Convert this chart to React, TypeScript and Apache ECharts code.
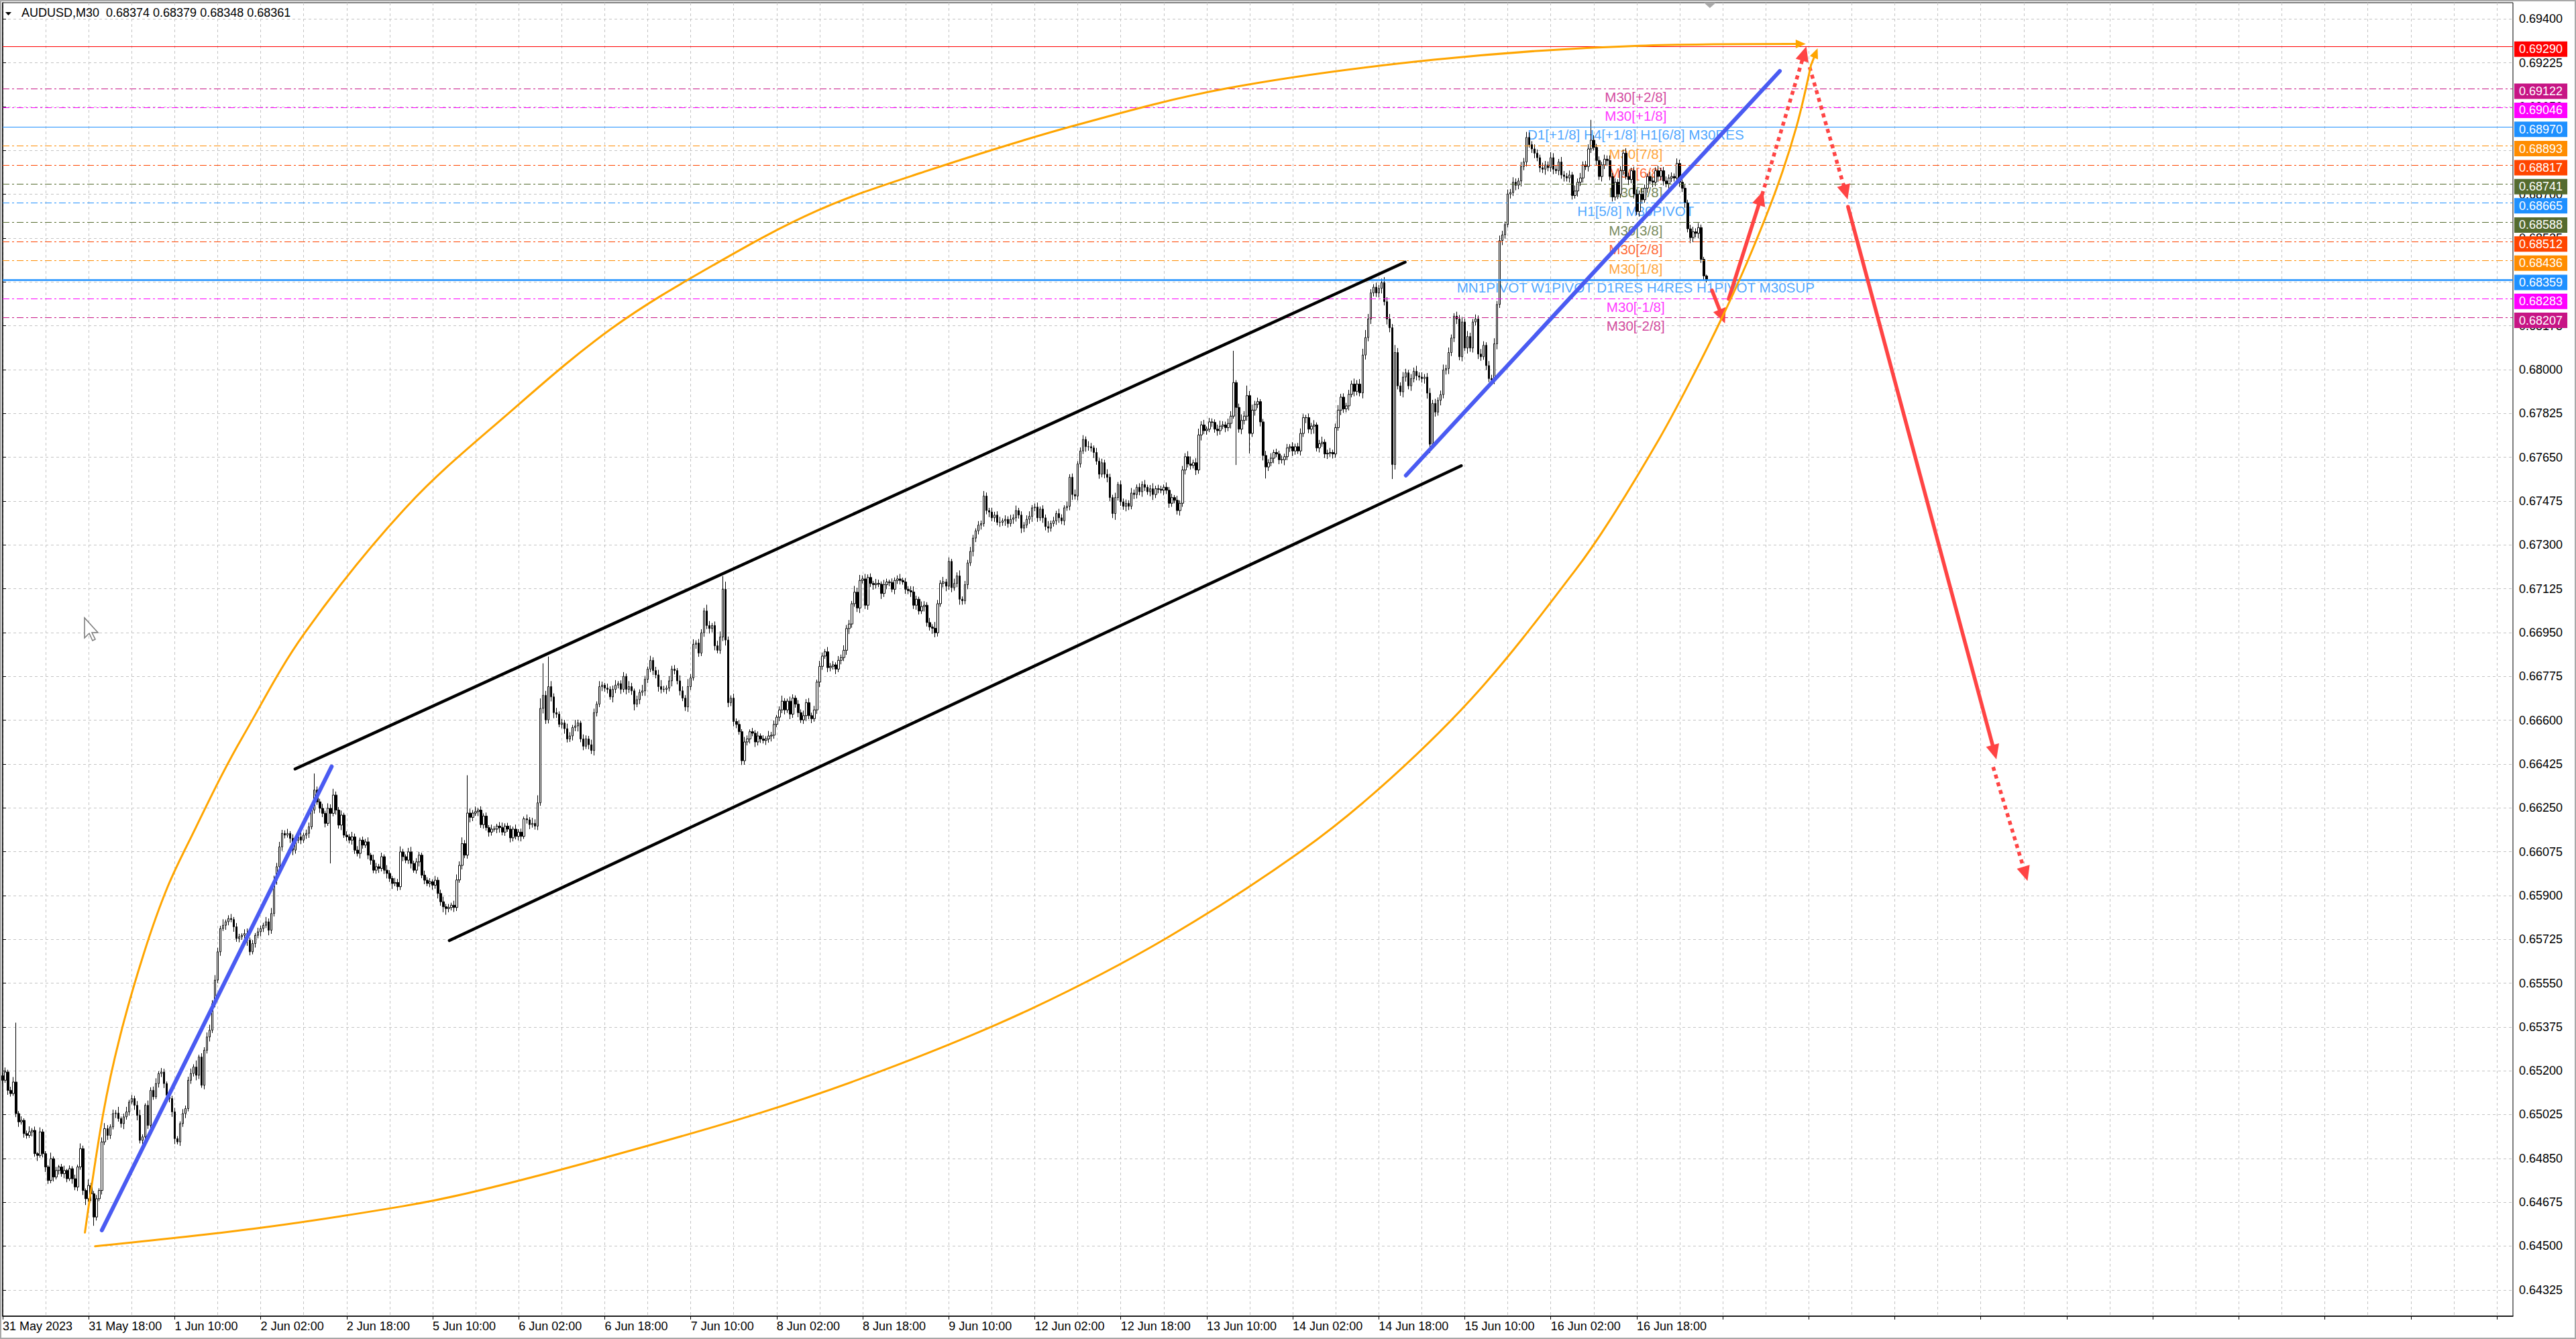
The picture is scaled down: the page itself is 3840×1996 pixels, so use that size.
import React, { useEffect, useRef } from "react";
import * as echarts from "echarts";

const FONT = '"Liberation Sans", Arial, Helvetica, sans-serif';
const SCALE = 100000; // prices below are in 1e-5 units

// ---- header ----
const HEADER_SYMBOL = "AUDUSD,M30";
const HEADER_PRICES = ["0.68374", "0.68379", "0.68348", "0.68361"];

// ---- x axis (M30 bars, one label every 32 bars) ----
const TIME_LABELS = [
  "31 May 2023", "31 May 18:00", "1 Jun 10:00", "2 Jun 02:00", "2 Jun 18:00",
  "5 Jun 10:00", "6 Jun 02:00", "6 Jun 18:00", "7 Jun 10:00", "8 Jun 02:00",
  "8 Jun 18:00", "9 Jun 10:00", "12 Jun 02:00", "12 Jun 18:00", "13 Jun 10:00",
  "14 Jun 02:00", "14 Jun 18:00", "15 Jun 10:00", "16 Jun 02:00", "16 Jun 18:00",
];
const LABEL_STEP = 32;
const TOTAL_SLOTS = 935;

// ---- y axis ----
const Y_MIN = 0.6422;
const Y_MAX = 0.69465;
const Y_TICKS = [
  0.64325, 0.645, 0.64675, 0.6485, 0.65025, 0.652, 0.65375, 0.6555, 0.65725, 0.659,
  0.66075, 0.6625, 0.66425, 0.666, 0.66775, 0.6695, 0.67125, 0.673, 0.67475, 0.6765,
  0.67825, 0.68, 0.68175, 0.6835, 0.68525, 0.687, 0.68875, 0.6905, 0.69225, 0.694,
];

// ---- candles: closes (open = previous close) ----
const OPEN_FIRST = 65180;
const CLOSE_A = [
  65162,65195,65122,65109,65155,65029,64996,65002,64949,64942,
  64956,64962,64869,64862,64956,64869,64816,64762,64849,64776,
  64802,64816,64789,64802,64769,64809,64769,64736,64816,64889,
  64722,64689,64742,64709,64616,64689,64722,64916,64969,64942,
  64976,65029,65031,65009,64989,65016,65036,65075,65089,65062,
  65022,64922,64936,65062,64982,65122,65096,65149,65189,65195,
  65149,65102,65089,65036,64929,64916,64989,65029,65049,65162,
  65189,65215,65182,65255,65142,65282,65335,65362,65468,65562,
  65675,65768,65781,65795,65808,65804,65775,65728,65735,65741,
  65748,65721,65675,65708,65741,65755,65768,65781,65795,65761,
  65828,65961,66015,66094,66148,66141,66148,66128,66081,66121,
  66134,66121,66141,66148,66174,66241,66321,66274,66248,66228,
  66188,66248,66228,66301,66241,66181,66221,66141,66134,66121,
  66134,66081,66068,66121,66101,66114,66061,66041,66001,66015,
  66008,66055,66001,65988,65968,65948,65952,65935,66074,66055,
  66041,66074,66028,66001,66034,66061,65981,65961,65948,65955,
  65941,65961,65908,65875,65855,65848,65852,65861,
];
const CLOSE_B = [
  65852,65962,66020,66107,66061,66229,66212,66229,66235,66241,
  66183,66217,66171,66153,66165,66165,66177,66171,66153,66177,
  66165,66130,66165,66136,66153,66136,66206,66202,66183,66188,
  66177,66270,66647,66699,66601,66734,66693,66630,66624,66583,
  66589,66566,66525,66537,66571,66577,66589,66525,66496,66525,
  66502,66479,66630,66664,66734,66740,66728,66723,66693,66723,
  66740,66746,66723,66775,66723,66734,66717,66664,66682,66711,
  66717,66763,66804,66839,66798,66781,66734,66723,66723,66728,
  66757,66804,66798,66757,66717,66688,66653,66734,66769,66903,
  66908,66868,66949,67036,66978,66966,66978,66897,66879,66932,
  67123,66920,66670,66688,66595,66583,66554,66438,66513,66525,
  66554,66548,66513,66537,66525,66519,66525,66537,66540,66583,
  66612,66641,66676,66641,66676,66624,66688,66664,66630,66601,
  66618,66670,66618,66606,66641,66752,66815,66856,66873,66810,
  66815,66821,66804,66839,66850,66879,66966,66984,67065,67111,
  67048,67158,67164,67059,67170,67146,67141,67146,67143,67106,
  67141,67152,67150,67123,67158,67164,67158,67152,67123,67117,
];
const CLOSE_C = [
  67112,67059,67083,67036,67054,67059,66990,66972,66967,66949,
  67065,67146,67152,67135,67234,67129,67146,67176,67083,67077,
  67141,67228,67274,67327,67356,67379,67385,67495,67437,67431,
  67408,67419,67390,67390,67396,67402,67385,67402,67408,67437,
  67419,67367,67379,67402,67414,67448,67451,67408,67443,67408,
  67373,67367,67385,67396,67425,67408,67396,67448,67454,67570,
  67501,67495,67623,67675,67721,67692,67692,67687,67669,67634,
  67582,67628,67582,67570,67489,67425,67489,67541,67472,67454,
  67466,67454,67507,67501,67530,67512,67541,67530,67512,67524,
  67501,67524,67522,67518,67530,67518,67466,67489,67478,67437,
  67466,67599,67652,67623,67617,67628,67599,67739,67779,67756,
  67762,67791,67789,67762,67756,67774,67779,67768,67785,67814,
  67948,67849,67762,67797,67814,67896,67745,67838,67861,67872,
  67791,67657,67611,67628,67646,67669,67663,67640,67640,67652,
  67687,67692,67675,67692,67675,67745,67808,67808,67762,67774,
  67779,67687,67704,67710,67663,67666,67669,67663,67768,67838,
  67890,67843,67855,67901,67942,67913,67942,67907,68058,68128,
];
const CLOSE_D = [
  68202,68306,68329,68306,68324,68347,68271,68202,68167,67621,
  68068,67935,67911,67970,67987,67935,67964,67993,67975,67970,
  67964,67970,67906,67702,67865,67830,67877,67900,67998,68004,
  68068,68126,68213,68202,68051,68190,68086,68132,68086,68190,
  68202,68062,68051,68097,68016,67964,67958,68103,68260,68515,
  68538,68579,68701,68707,68748,68736,68753,68811,68829,68927,
  68898,68881,68864,68846,68806,68800,68817,68806,68846,68800,
  68794,68829,68777,68771,68765,68777,68695,68713,68748,68765,
  68817,68811,68881,68916,68887,68835,68771,68817,68840,68835,
  68771,68689,68748,68701,68794,68864,68771,68759,68794,68701,
  68631,68701,68678,68724,68771,68753,68748,68794,68771,68794,
  68753,68742,68765,68771,68765,68823,68748,68724,68666,68562,
  68527,68550,68544,68567,68440,68374,68361,
];
// wick lengths above / below the body (1e-5 units)
const UPPER_WICK = [
  12,18,9,14,20,237,10,16,8,12,22,9,15,6,18,11,10,7,24,9,
  14,8,12,19,6,13,10,16,9,21,12,8,24,10,11,15,9,18,22,14,
  10,16,12,25,8,13,20,9,14,11,17,22,10,8,19,12,15,21,9,16,
  13,8,22,11,16,10,9,18,12,14,20,11,26,9,15,12,18,22,14,20,
  16,11,24,9,13,18,10,15,12,8,17,20,11,14,9,16,12,10,19,13,
  22,18,15,20,14,12,18,9,16,11,13,19,10,15,17,21,66,14,12,18,
  10,20,16,25,14,12,18,9,15,11,20,13,16,10,14,12,18,9,22,15,
  11,16,9,20,13,10,18,14,22,12,9,16,20,11,15,13,10,18,12,14,
  9,17,12,15,20,11,14,10,18,22,16,25,14,151,18,12,20,9,15,11,
  14,10,18,12,9,16,20,11,13,15,10,18,12,14,9,17,11,22,16,30,
  40,128,18,120,22,14,19,11,16,12,20,15,10,24,13,9,18,14,12,20,
  16,11,22,14,9,18,12,15,20,10,13,17,11,22,15,9,16,12,24,14,
  10,18,12,15,20,26,14,11,19,13,16,10,22,18,12,30,15,20,11,16,
  14,12,25,18,10,16,20,22,52,30,14,11,18,12,16,10,20,14,9,15,
  12,18,10,15,11,20,13,16,9,14,22,12,10,18,15,11,16,13,20,14,
  18,12,16,10,22,14,11,19,13,15,10,17,12,20,14,16,11,25,18,22,
  14,20,12,16,10,18,15,11,19,13,9,16,12,14,20,11,15,12,18,22,
  14,10,20,16,12,18,11,25,15,13,20,12,16,10,19,14,22,11,15,12,
  18,13,10,16,12,20,14,11,17,13,15,22,10,16,12,18,14,20,11,15,
  12,16,20,11,14,18,10,15,13,22,12,16,11,19,14,10,18,12,15,20,
  11,14,17,12,22,15,10,18,13,16,12,20,14,11,19,10,16,13,15,12,
  20,14,11,16,13,18,10,15,22,12,16,14,11,19,13,15,10,18,12,16,
  14,22,30,12,18,25,15,20,11,16,14,12,18,22,15,13,19,20,127,10,
  15,24,20,40,18,22,14,16,10,12,18,14,20,11,15,13,17,12,16,10,
  18,12,15,20,14,11,16,13,19,10,15,22,12,14,18,11,16,20,13,15,
  12,18,14,22,16,20,25,30,20,15,12,18,14,16,22,18,20,15,30,18,
  14,20,16,12,18,15,22,14,19,12,16,20,14,18,12,16,22,15,20,14,
  12,18,16,20,14,22,15,12,18,14,20,16,12,18,15,22,14,20,16,12,
  18,14,20,15,12,18,16,22,20,14,18,15,12,20,16,14,22,18,15,12,
  20,16,14,18,12,22,15,20,14,16,18,81,20,14,16,12,18,15,20,14,
  16,12,18,14,20,15,12,16,18,14,22,15,12,18,16,14,20,12,15,18,
  14,16,12,20,15,18,14,12,16,20,14,18,12,10,5,
];
const LOWER_WICK = [
  15,10,18,12,9,14,20,11,16,13,10,18,12,22,9,15,20,14,11,18,
  10,16,12,18,14,9,20,13,16,11,18,25,12,30,35,14,10,16,12,18,
  14,10,18,12,16,22,11,15,9,18,20,12,16,10,14,18,12,9,16,14,
  18,12,15,20,22,10,16,13,18,11,14,12,20,15,10,16,13,18,11,14,
  12,16,10,18,14,11,20,13,15,12,18,22,14,10,16,12,18,14,11,20,
  14,12,18,11,16,13,10,18,20,14,12,16,11,15,18,10,14,12,18,15,
  16,10,200,12,18,14,20,11,16,13,18,15,12,20,14,11,16,18,12,14,
  18,12,15,20,14,22,11,16,13,18,12,15,20,10,14,18,12,16,11,15,
  18,14,20,16,22,25,15,12,18,14,11,16,12,14,20,15,11,18,13,16,
  12,18,14,10,16,20,13,15,11,18,14,12,16,20,10,15,18,12,14,16,
  12,20,16,14,18,22,15,11,16,20,14,12,18,15,22,13,16,11,18,14,
  20,15,12,18,14,16,11,22,15,13,18,12,20,14,16,25,12,18,14,20,
  15,12,18,14,20,16,11,18,13,22,15,14,18,12,16,20,14,11,18,15,
  12,16,14,20,15,18,12,14,16,22,18,14,20,15,12,17,16,14,18,12,
  20,14,16,12,18,15,22,14,11,16,13,18,12,20,15,14,18,12,16,22,
  14,18,12,16,20,14,11,18,15,13,20,12,16,14,18,22,15,12,16,20,
  12,15,18,14,20,16,12,22,14,18,15,12,20,14,16,11,18,14,20,15,
  18,14,12,20,16,14,22,18,15,12,16,20,14,18,12,15,22,16,14,18,
  12,20,16,14,18,12,15,20,14,16,12,18,14,20,16,12,18,15,14,20,
  16,12,18,22,14,16,12,20,15,18,14,12,16,20,14,18,12,16,22,14,
  18,14,12,20,16,15,22,14,18,12,16,20,14,18,25,12,16,14,20,15,
  12,18,16,14,20,15,12,18,22,14,16,12,20,15,18,14,12,16,20,14,
  18,14,16,12,20,15,22,14,16,12,18,14,20,16,12,18,14,20,10,230,
  14,20,16,18,80,14,22,15,18,20,46,16,14,20,12,18,15,22,14,16,
  20,15,12,18,14,22,16,20,30,14,18,12,16,20,14,18,15,12,20,16,
  14,18,12,20,16,14,22,18,15,20,14,16,18,20,15,22,18,58,20,14,
  16,22,18,14,20,15,18,14,16,20,22,35,16,18,14,20,15,18,22,14,
  16,20,14,18,12,22,15,18,14,20,16,12,18,14,20,16,22,14,18,15,
  12,18,14,20,16,22,15,18,12,16,20,14,18,15,22,14,16,20,12,18,
  15,20,14,18,16,12,22,15,18,14,20,16,12,18,14,20,16,22,15,18,
  14,20,16,18,12,22,15,18,14,20,16,12,18,14,20,16,22,15,18,14,
  20,16,14,22,18,15,20,14,22,18,16,20,14,18,13,
];

// ---- horizontal levels ----
const BID_PRICE = 0.68361;
const LEVEL_PRICES = [0.6929, 0.69122, 0.69046, 0.6897, 0.68893, 0.68817, 0.68741, 0.68665, 0.68588, 0.68512, 0.68436, 0.68359, 0.68283, 0.68207];
const LEVEL_COLORS = ["#FF0000", "#C71585", "#FF00FF", "#1E90FF", "#FF8C00", "#FF4500", "#556B2F", "#1E90FF", "#556B2F", "#FF4500", "#FF8C00", "#1E90FF", "#FF00FF", "#C71585"];
const LEVEL_KINDS = ["solid", "dashdot", "dashdot", "solid", "dashdot", "dashdot", "dashdot", "dashdot", "dashdot", "dashdot", "dashdot", "bold", "dashdot", "dashdot"];
const LEVEL_TEXTS = [
  "", "M30[+2/8]", "M30[+1/8]", "D1[+1/8] H4[+1/8] H1[6/8] M30RES", "M30[7/8]", "M30[6/8]",
  "M30[5/8]", "H1[5/8] M30PIVOT", "M30[3/8]", "M30[2/8]", "M30[1/8]",
  "MN1PIVOT W1PIVOT D1RES H4RES H1PIVOT M30SUP", "M30[-1/8]", "M30[-2/8]",
];
const LEVEL_TEXT_INDEX = 607.6;

// ---- drawn objects: [bar index, price in 1e-5] ----
const CHANNEL_UPPER = [[108.8, 66405], [521.8, 68429]];
const CHANNEL_LOWER = [[166.2, 65720], [542.7, 67616]];
const TREND_BLUE_1 = [[36.9, 64563], [122.4, 66415]];
const TREND_BLUE_2 = [[522.1, 67577], [661.2, 69192]];
const ARC_UPPER = [
  [30.6, 64554], [37.4, 65029], [43.6, 65335], [52.5, 65668], [61.4, 65935], [71.4, 66161],
  [81.5, 66380], [89.1, 66530], [112.1, 66944], [150.3, 67452], [188.5, 67828], [226.7, 68165],
  [264.9, 68420], [303.0, 68634], [341.2, 68784], [398.7, 68974], [456.1, 69124], [532.5, 69237],
  [608.8, 69293], [666.0, 69300],
];
const ARC_LOWER = [
  [34.4, 64499], [96.0, 64573], [148.8, 64659], [173.7, 64713], [215.6, 64828], [282.5, 65034],
  [332.6, 65222], [382.8, 65448], [432.9, 65729], [483.1, 66077], [516.5, 66368], [549.9, 66726],
  [585.0, 67197], [598.1, 67400], [616.5, 67726], [627.3, 67941], [639.2, 68196], [649.0, 68427],
  [659.8, 68717], [667.4, 68969], [672.8, 69215],
];
const ARC_UPPER_HEAD = [[662.0, 69300], [669.0, 69300]];
const ARC_LOWER_HEAD = [[672.8, 69215], [674.6, 69264]];
const ARROWS_SOLID = [
  [[636.0, 68316], [639.8, 68212]],
  [[642.2, 68282], [654.2, 68685]],
  [[686.6, 68650], [741.1, 66472]],
];
const ARROWS_DOTTED = [
  [[654.6, 68697], [670.3, 69262]],
  [[672.3, 69208], [685.7, 68708]],
  [[740.6, 66413], [752.6, 65986]],
];
const SHIFT_MARK_INDEX = 635.2;
const CURSOR = [[0, 0], [0, 30], [7, 23], [12, 34], [16, 32], [11, 22], [20, 22]];

const CLOSES = [...CLOSE_A, ...CLOSE_B, ...CLOSE_C, ...CLOSE_D];

function buildCandles() {
  return CLOSES.map((c, i) => {
    const o = i === 0 ? OPEN_FIRST : CLOSES[i - 1];
    const hi = Math.max(o, c) + (UPPER_WICK[i] ?? 10);
    const lo = Math.min(o, c) - (LOWER_WICK[i] ?? 10);
    return [o / SCALE, c / SCALE, lo / SCALE, hi / SCALE];
  });
}

const toXY = (pts: number[][]) => pts.map(([x, y]) => [x, y / SCALE]);

function overlayLine(pts: number[][], color: string, width: number, smooth: number | false = false, z = 6) {
  return {
    type: "line",
    xAxisIndex: 1,
    yAxisIndex: 0,
    data: toXY(pts),
    symbol: "none",
    showSymbol: false,
    smooth,
    silent: true,
    z,
    lineStyle: { color, width, cap: "round", join: "round" },
  };
}

function levelLineStyle(i: number) {
  const kind = LEVEL_KINDS[i];
  if (kind === "solid") return { color: LEVEL_COLORS[i], width: 1, type: "solid" };
  if (kind === "bold") return { color: LEVEL_COLORS[i], width: 2.5, type: "solid" };
  return { color: LEVEL_COLORS[i], width: 1.2, type: [10, 4, 3, 4] };
}

function boxLabel(bg: string, text: string) {
  return {
    show: true,
    position: "end",
    distance: 2,
    formatter: text,
    color: "#ffffff",
    backgroundColor: bg,
    padding: [3, 7, 2, 7],
    fontSize: 18,
    fontFamily: FONT,
    offset: [0, 4],
  };
}

function buildOption() {
  const cats = Array.from({ length: TOTAL_SLOTS }, (_, i) => String(i));
  const levelMarks: any[] = [
    { yAxis: BID_PRICE, lineStyle: { opacity: 0, width: 0 }, label: { ...boxLabel("#000000", BID_PRICE.toFixed(5)), offset: [0, -2] } },
  ];
  LEVEL_PRICES.forEach((p, i) => {
    levelMarks.push({ yAxis: p, lineStyle: levelLineStyle(i), label: boxLabel(LEVEL_COLORS[i], p.toFixed(5)) });
  });

  const arrowData: any[] = [];
  ARROWS_SOLID.forEach(([a, b]) => {
    arrowData.push([
      { coord: [a[0], a[1] / SCALE], lineStyle: { color: "#FF4444", width: 5.5, type: "solid", cap: "round" } },
      { coord: [b[0], b[1] / SCALE] },
    ]);
  });
  ARROWS_DOTTED.forEach(([a, b]) => {
    arrowData.push([
      { coord: [a[0], a[1] / SCALE], lineStyle: { color: "#FF4444", width: 5.5, type: [6, 6], cap: "butt" } },
      { coord: [b[0], b[1] / SCALE] },
    ]);
  });
  [ARC_UPPER_HEAD, ARC_LOWER_HEAD].forEach(([a, b]) => {
    arrowData.push([
      { coord: [a[0], a[1] / SCALE], lineStyle: { color: "#FFA500", width: 3, type: "solid" } },
      { coord: [b[0], b[1] / SCALE], symbolSize: [13, 15] },
    ]);
  });

  return {
    animation: false,
    backgroundColor: "#ffffff",
    textStyle: { fontFamily: FONT },
    grid: { left: 4, right: 94, top: 4, bottom: 34, show: true, borderColor: "#000000", borderWidth: 1, containLabel: false },
    xAxis: [
      {
        type: "category",
        data: cats,
        boundaryGap: false,
        axisLine: { show: true, lineStyle: { color: "#000000", width: 1.5 } },
        axisTick: { show: true, interval: LABEL_STEP - 1, length: 5, lineStyle: { color: "#000000" } },
        axisLabel: {
          show: true,
          interval: LABEL_STEP - 1,
          align: "left",
          margin: 6,
          color: "#000000",
          fontSize: 18,
          fontFamily: FONT,
          formatter: (_v: string, idx: number) => {
            const k = Math.round(idx / LABEL_STEP);
            return TIME_LABELS[k] ?? "";
          },
        },
        splitLine: { show: true, interval: LABEL_STEP / 2 - 1, lineStyle: { color: "#c4c4c4", type: [4, 4], width: 1 } },
      },
      { type: "value", min: 0, max: TOTAL_SLOTS - 1, show: false },
    ],
    yAxis: {
      type: "value",
      position: "right",
      min: Y_MIN,
      max: Y_MAX,
      scale: true,
      axisLine: { show: true, lineStyle: { color: "#000000", width: 1.5 } },
      axisTick: { show: true, customValues: Y_TICKS, length: 5, lineStyle: { color: "#000000" } },
      axisLabel: {
        show: true,
        customValues: Y_TICKS,
        margin: 9,
        color: "#000000",
        fontSize: 18,
        fontFamily: FONT,
        formatter: (v: number) => v.toFixed(5),
      },
      splitLine: { show: true, lineStyle: { color: "#c4c4c4", type: [4, 4], width: 1 } },
    },
    series: [
      {
        type: "scatter",
        xAxisIndex: 1,
        yAxisIndex: 0,
        symbolSize: 1,
        silent: true,
        z: 1,
        itemStyle: { color: "rgba(0,0,0,0)" },
        label: { show: true, position: "bottom", distance: 1, fontSize: 20.6, fontFamily: FONT, formatter: "{b}" },
        data: LEVEL_TEXTS.map((t, i) =>
          t ? { name: t, value: [LEVEL_TEXT_INDEX, LEVEL_PRICES[i]], label: { color: LEVEL_COLORS[i] } } : null
        ).filter(Boolean),
        markLine: { silent: true, precision: 5, symbol: ["none", "none"], animation: false, data: levelMarks },
      },
      {
        type: "candlestick",
        xAxisIndex: 0,
        yAxisIndex: 0,
        data: buildCandles(),
        barWidth: 3,
        large: false,
        progressive: 0,
        silent: true,
        z: 3,
        itemStyle: { color: "#ffffff", color0: "#000000", borderColor: "#000000", borderColor0: "#000000", borderWidth: 1 },
      },
      overlayLine(CHANNEL_UPPER, "#000000", 4.5),
      overlayLine(CHANNEL_LOWER, "#000000", 4.5),
      overlayLine(ARC_UPPER, "#FFA500", 3, 0.35),
      overlayLine(ARC_LOWER, "#FFA500", 3, 0.35),
      overlayLine(TREND_BLUE_1, "#4A5BF2", 6),
      {
        ...overlayLine(TREND_BLUE_2, "#4A5BF2", 6),
        markLine: {
          silent: true,
          animation: false,
          precision: 5,
          symbol: ["none", "triangle"],
          symbolSize: [20, 22],
          label: { show: false },
          data: arrowData,
        },
      },
    ],
  };
}

function buildGraphic(shiftX: number) {
  return [
    { type: "rect", silent: true, z: 0, shape: { x: 1, y: 1, width: 3838, height: 1994 }, style: { fill: "none", stroke: "#a8a8a8", lineWidth: 2 } },
    { type: "polygon", silent: true, z: 10, shape: { points: [[8, 18], [17, 18], [12.5, 23]] }, style: { fill: "#000000" } },
    { type: "text", silent: true, z: 10, x: 32, y: 19, style: { text: HEADER_SYMBOL, fontSize: 18, fontFamily: FONT, fill: "#000000", verticalAlign: "middle" } },
    { type: "text", silent: true, z: 10, x: 158, y: 19, style: { text: HEADER_PRICES.join(" "), fontSize: 18, fontFamily: FONT, fill: "#000000", verticalAlign: "middle" } },
    { type: "polygon", silent: true, z: 10, shape: { points: [[shiftX - 9, 4], [shiftX + 9, 4], [shiftX, 12]] }, style: { fill: "#a8a8a8" } },
    { type: "polygon", silent: true, z: 10, x: 126, y: 921, shape: { points: CURSOR }, style: { fill: "#ffffff", stroke: "#7a7a7a", lineWidth: 1.5 } },
  ];
}

export default function App() {
  const ref = useRef<HTMLDivElement>(null);
  useEffect(() => {
    document.body.style.margin = "0";
    document.documentElement.style.overflow = "hidden";
    const el = ref.current;
    if (!el) return;
    const chart = echarts.init(el, null, { renderer: "svg" });
    chart.setOption(buildOption() as any);
    const sx = chart.convertToPixel({ xAxisIndex: 1 }, SHIFT_MARK_INDEX) as number;
    chart.setOption({ graphic: buildGraphic(sx) } as any);
    return () => chart.dispose();
  }, []);
  return <div ref={ref} style={{ width: 3840, height: 1996 }} />;
}
